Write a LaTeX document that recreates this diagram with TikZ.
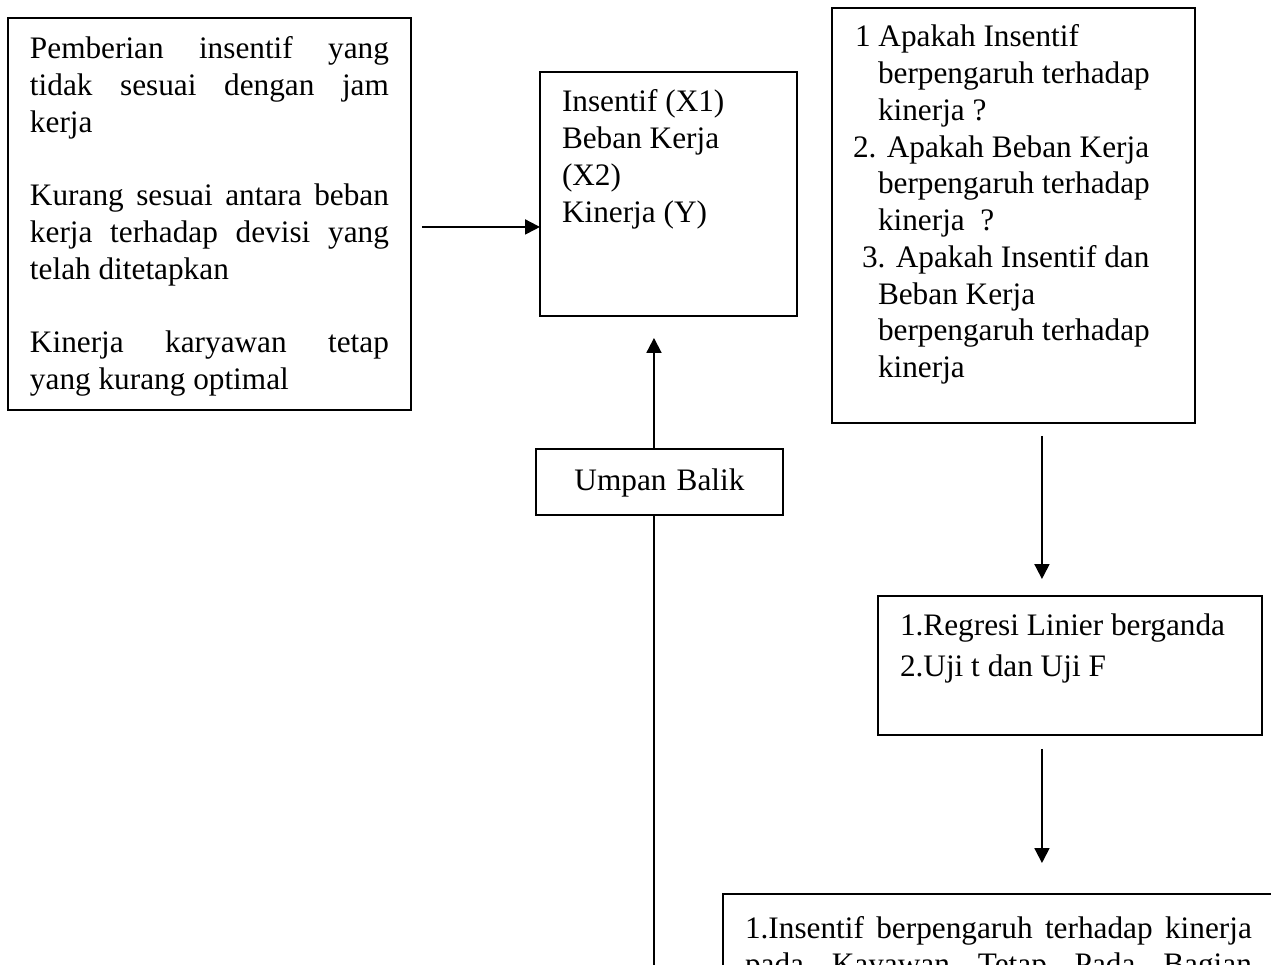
\documentclass[tikz,border=0pt]{standalone}
\usepackage{fontspec}
\setmainfont{Liberation Serif}
\usetikzlibrary{arrows.meta}

\begin{document}
\begin{tikzpicture}[
    x=0.02cm, y=-0.02cm,
    box/.style={rectangle, draw, line width=1.1pt, anchor=north west, outer sep=0pt, inner ysep=0pt, inner xsep=0.44cm, align=left, font=\fontsize{17.8pt}{20.9pt}\selectfont, execute at begin node={\spaceskip=0pt\xspaceskip=0pt}},
    arrow/.style={line width=1.1pt, ->, >={Triangle[length=8.5pt, width=8.5pt]}},
    link/.style={line width=1.1pt}
]

% Frame
\useasboundingbox (0,0) rectangle (1271,964);
\clip (0,0) rectangle (1271,964);

% Problems
\node[box, text width=7.18cm, text height=0.82cm, text depth=7.02cm] (issues) at (8,18) {
    \makebox[\linewidth][s]{Pemberian insentif yang}\\
    \makebox[\linewidth][s]{tidak sesuai dengan jam}\\
    kerja\\[20.9pt]
    \makebox[\linewidth][s]{Kurang sesuai antara beban}\\
    \makebox[\linewidth][s]{kerja terhadap devisi yang}\\
    telah ditetapkan\\[20.9pt]
    \makebox[\linewidth][s]{Kinerja karyawan tetap}\\
    yang kurang optimal
};

% Variables
\node[box, text width=4.26cm, text height=0.8cm, text depth=4.08cm] (vars) at (540,72) {
    Insentif (X1)\\
    Beban Kerja\\
    (X2)\\
    Kinerja (Y)
};

% Feedback
\node[box, align=center, inner xsep=0pt, text width=4.94cm, text height=0.82cm, text depth=0.5cm] (feedback) at (536,449) {Umpan Balik};

% Research questions
\node[box, inner xsep=0.42cm, text width=6.42cm, text height=0.78cm, text depth=7.52cm] (questions) at (832,8) {
    \hspace*{0.04cm}1 Apakah Insentif\\
    \hspace*{0.5cm}berpengaruh terhadap\\
    \hspace*{0.5cm}kinerja ?\\
    2. Apakah Beban Kerja\\
    \hspace*{0.5cm}berpengaruh terhadap\\
    \hspace*{0.5cm}kinerja\ \ ?\\
    \hspace*{0.18cm}3. Apakah Insentif dan\\
    \hspace*{0.5cm}Beban Kerja\\
    \hspace*{0.5cm}berpengaruh terhadap\\
    \hspace*{0.5cm}kinerja
};

% Analysis methods
\node[box, text width=6.8cm, text height=0.78cm, text depth=2cm] (methods) at (878,596) {
    1.Regresi Linier berganda\\[3pt]
    2.Uji t dan Uji F
};

% Results
\node[box, text width=10.14cm, text height=0.88cm, text depth=3cm] (results) at (723,894) {
    \makebox[\linewidth][s]{1.Insentif berpengaruh terhadap kinerja}\\
    \makebox[\linewidth][s]{pada Kayawan Tetap Pada Bagian}
};

% Connections
\coordinate (start) at ([yshift=-0.26cm]issues.east);
\draw[arrow, shorten <=0.22cm] (start) -- (start -| vars.west);
\draw[arrow, shorten >=0.44cm] ([xshift=-0.11cm]feedback.north) -- ([xshift=-0.11cm]feedback.north |- vars.south);
\coordinate (loop) at ([xshift=-0.11cm]feedback.south |- 0,1000);
\draw[link] ([xshift=-0.11cm]feedback.south) -- (loop);
\draw[arrow, shorten <=0.26cm, shorten >=0.34cm] ([xshift=0.57cm]questions.south) -- ([xshift=0.57cm]questions.south |- methods.north);
\draw[arrow, shorten <=0.28cm, shorten >=0.62cm] ([xshift=-0.56cm]methods.south) -- ([xshift=-0.56cm]methods.south |- results.north);

\end{tikzpicture}
\end{document}
